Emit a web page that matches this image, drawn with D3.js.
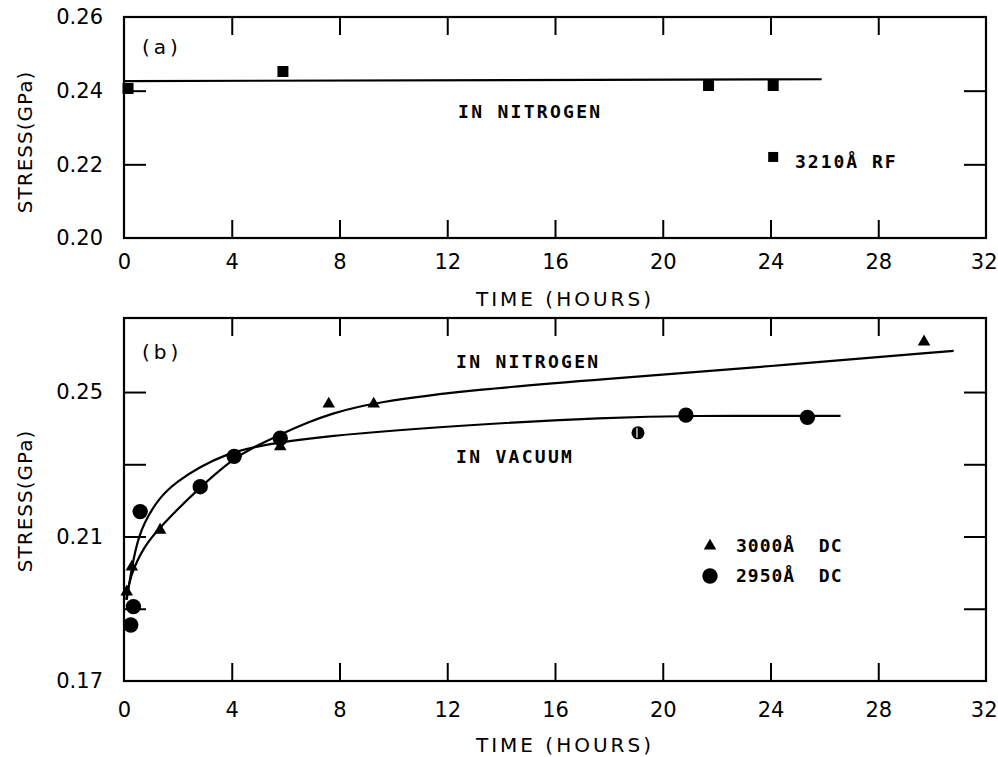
<!DOCTYPE html>
<html>
<head>
<meta charset="utf-8">
<script src="https://cdn.jsdelivr.net/npm/d3@7"></script>
<style>
  body { margin: 0; background: #fff; }
  text { fill: #000; }
</style>
</head>
<body>
<div id="chart-area"></div>
<script>
// time axis, shared by both panels
var xTicks = [0, 4, 8, 12, 16, 20, 24, 28, 32];

// panel (a): 3210 A RF film, in nitrogen
var aYLabels = [0.20, 0.22, 0.24, 0.26];
var aYInner = [0.22, 0.24];
var rfHours = [0.15, 5.9, 21.7, 24.1];
var rfStress = [0.2406, 0.2452, 0.2414, 0.2414];
var rfFit = [[0, 0.2426], [25.9, 0.2431]];

// panel (b): DC films
var bYLabels = [0.17, 0.21, 0.25];
var bYInner = [0.19, 0.21, 0.23, 0.25];
var triHours = [0.1, 0.29, 1.34, 5.8, 7.6, 9.27, 29.7];
var triStress = [0.1947, 0.2016, 0.2118, 0.2349, 0.2467, 0.2467, 0.2639];
var dotHours = [0.25, 0.35, 0.6, 2.83, 4.09, 5.8, 20.86, 25.37];
var dotStress = [0.1855, 0.1906, 0.2169, 0.2238, 0.2322, 0.2372, 0.2436, 0.2430];
var oddDot = [[19.08, 0.2387]];
var nitrogenFit = [[0.08, 0.1925], [0.22, 0.1989], [0.72, 0.2071], [1.34, 0.2127], [2.83, 0.2238],
  [4.09, 0.2317], [4.68, 0.2342], [5.8, 0.2383], [6.9, 0.2418], [7.6, 0.2438], [9.27, 0.2472],
  [13.2, 0.2508], [17.7, 0.2535], [23.9, 0.2571], [30.8, 0.2614]];
var vacuumFit = [[0.1, 0.1925], [0.16, 0.1955], [0.41, 0.2065], [0.72, 0.2137], [1.34, 0.2211],
  [1.96, 0.2252], [2.83, 0.2294], [3.82, 0.2328], [4.68, 0.2346], [6.9, 0.2377],
  [13.98, 0.2415], [17.7, 0.2428], [20.86, 0.2435], [26.6, 0.2434]];

var svg = d3.select("#chart-area").append("svg")
  .attr("width", 998)
  .attr("height", 757);

var x = d3.scaleLinear().domain([0, 32]).range([124, 986]);
var yA = d3.scaleLinear().domain([0.20, 0.26]).range([238, 17]);
var yB = d3.scaleLinear().domain([0.17, 0.2705]).range([681, 318]);

var tickFont = "DejaVu Sans";
var noteFont = "DejaVu Sans Mono";

function panel(y, yLabels, yInner, labelPad) {
  var top = y.range()[1], bottom = y.range()[0];
  var g = svg.append("g");

  g.append("rect")
    .attr("x", x.range()[0]).attr("y", top)
    .attr("width", x.range()[1] - x.range()[0])
    .attr("height", bottom - top)
    .attr("fill", "none").attr("stroke", "#000").attr("stroke-width", 2.2);

  var inner = xTicks.slice(1, -1);
  // inward ticks, top and bottom
  g.append("g").attr("transform", "translate(0," + bottom + ")")
    .call(d3.axisBottom(x).tickValues(inner).tickSize(-18).tickFormat(""));
  g.append("g").attr("transform", "translate(0," + top + ")")
    .call(d3.axisTop(x).tickValues(inner).tickSize(-18).tickFormat(""));
  // inward ticks, left and right
  g.append("g").attr("transform", "translate(" + x.range()[0] + ",0)")
    .call(d3.axisLeft(y).tickValues(yInner).tickSize(-22).tickFormat(""));
  g.append("g").attr("transform", "translate(" + x.range()[1] + ",0)")
    .call(d3.axisRight(y).tickValues(yInner).tickSize(-22).tickFormat(""));

  // labels
  g.append("g").attr("class", "xlab").attr("transform", "translate(0," + bottom + ")")
    .call(d3.axisBottom(x).tickValues(xTicks).tickSize(0).tickPadding(labelPad).tickFormat(d3.format("d")));
  g.append("g").attr("class", "ylab").attr("transform", "translate(" + x.range()[0] + ",0)")
    .call(d3.axisLeft(y).tickValues(yLabels).tickSize(0).tickPadding(21).tickFormat(d3.format(".2f")));

  g.selectAll(".domain").remove();
  g.selectAll(".tick line").attr("stroke", "#000").attr("stroke-width", 2);
  g.selectAll(".xlab text, .ylab text")
    .attr("font-family", tickFont).attr("font-size", 21).attr("fill", "#000");
  // last time label sits on the page edge
  g.selectAll(".xlab .tick text").filter(function(d) { return d === 32; })
    .attr("text-anchor", "end").attr("dx", 11);
  return g;
}

var gA = panel(yA, aYLabels, aYInner, 16);
var gB = panel(yB, bYLabels, bYInner, 21);

function yTitle(g, cy) {
  g.append("text")
    .attr("transform", "translate(32," + cy + ") rotate(-90)")
    .attr("text-anchor", "middle")
    .attr("font-family", tickFont).attr("font-size", 20)
    .attr("letter-spacing", 1)
    .text("STRESS(GPa)");
}
function xTitle(g, cy) {
  g.append("text")
    .attr("x", 565).attr("y", cy)
    .attr("text-anchor", "middle")
    .attr("font-family", tickFont).attr("font-size", 20)
    .attr("letter-spacing", 3)
    .text("TIME (HOURS)");
}
function note(g, tx, ty, s, size, ls) {
  g.append("text")
    .attr("x", tx).attr("y", ty)
    .attr("font-family", noteFont).attr("font-weight", "bold")
    .attr("font-size", size).attr("letter-spacing", ls)
    .style("white-space", "pre")
    .text(s);
}

yTitle(gA, 142);
xTitle(gA, 306);
yTitle(gB, 501);
xTitle(gB, 752);

gA.append("text").attr("x", 142).attr("y", 54)
  .attr("font-family", tickFont).attr("font-size", 20).attr("letter-spacing", 4).text("(a)");
gB.append("text").attr("x", 142).attr("y", 359)
  .attr("font-family", tickFont).attr("font-size", 20).attr("letter-spacing", 4).text("(b)");

var line = d3.line()
  .x(function(d) { return x(d[0]); })
  .curve(d3.curveBasis);

// panel (a)
gA.append("path")
  .attr("d", line.y(function(d) { return yA(d[1]); })(rfFit))
  .attr("fill", "none").attr("stroke", "#000").attr("stroke-width", 2.2);

gA.selectAll("rect.pt").data(rfHours).enter().append("rect")
  .attr("class", "pt")
  .attr("x", function(d) { return x(d) - 5.5; })
  .attr("y", function(d, i) { return yA(rfStress[i]) - 5.5; })
  .attr("width", 11).attr("height", 11)
  .attr("fill", "#000");

note(gA, 458, 118, "IN NITROGEN", 18, 2.3);
gA.append("rect").attr("x", x(24.1) - 5).attr("y", yA(0.222) - 5)
  .attr("width", 10).attr("height", 10).attr("fill", "#000");
note(gA, 795, 168, "3210Å RF", 18, 2);

// panel (b)
var lineB = line.y(function(d) { return yB(d[1]); });
gB.append("path").attr("d", lineB(nitrogenFit))
  .attr("fill", "none").attr("stroke", "#000").attr("stroke-width", 2.2);
gB.append("path").attr("d", lineB(vacuumFit))
  .attr("fill", "none").attr("stroke", "#000").attr("stroke-width", 2.2);

var tri = d3.symbol().type(d3.symbolTriangle).size(68);
gB.selectAll("path.tri").data(triHours).enter().append("path")
  .attr("class", "tri")
  .attr("d", tri)
  .attr("transform", function(d, i) { return "translate(" + x(d) + "," + yB(triStress[i]) + ")"; })
  .attr("fill", "#000");

gB.selectAll("circle.dot").data(dotHours).enter().append("circle")
  .attr("class", "dot")
  .attr("cx", function(d) { return x(d); })
  .attr("cy", function(d, i) { return yB(dotStress[i]); })
  .attr("r", 7.7)
  .attr("fill", "#000");

gB.selectAll("g.odd").data(oddDot).enter().append("g")
  .attr("class", "odd")
  .attr("transform", function(d) { return "translate(" + x(d[0]) + "," + yB(d[1]) + ")"; })
  .each(function() {
    var o = d3.select(this);
    o.append("circle").attr("r", 6.5).attr("fill", "#000");
    o.append("line").attr("x1", -1).attr("x2", -1).attr("y1", -5).attr("y2", 5)
      .attr("stroke", "#fff").attr("stroke-width", 1.2);
  });

note(gB, 456, 368, "IN NITROGEN", 18, 2.3);
note(gB, 456, 463, "IN VACUUM", 18, 2.3);

gB.append("path").attr("d", tri).attr("transform", "translate(710,546)").attr("fill", "#000");
gB.append("circle").attr("cx", 710).attr("cy", 576).attr("r", 7.7).attr("fill", "#000");
note(gB, 736, 552, "3000Å  DC", 18, 1);
note(gB, 736, 582, "2950Å  DC", 18, 1);
</script>
</body>
</html>
